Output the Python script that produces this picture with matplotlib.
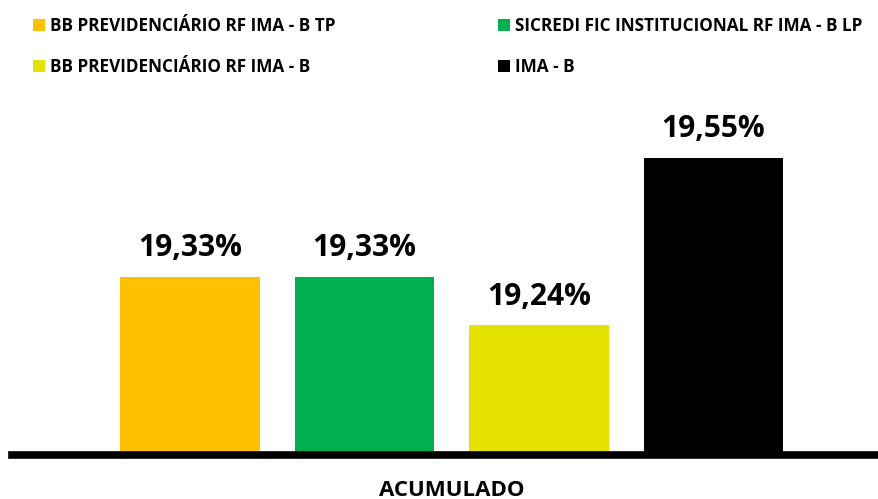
import matplotlib
matplotlib.use('Agg')
import matplotlib.pyplot as plt

fundos = ['BB PREVIDENCIÁRIO RF IMA - B TP',
          'SICREDI FIC INSTITUCIONAL RF IMA - B LP',
          'BB PREVIDENCIÁRIO RF IMA - B',
          'IMA - B']
acumulado = [19.33, 19.33, 19.24, 19.55]
cores = ['#FFC000', '#00B050', '#E6E200', '#000000']
categoria = 'ACUMULADO'

plt.rcParams['font.family'] = ['Open Sans', 'DejaVu Sans']
plt.rcParams['font.weight'] = 'bold'

fig = plt.figure(figsize=(8.79, 4.99), dpi=100)
ax = fig.add_axes([12 / 879, 1 - 455 / 499, 867 / 879, 355 / 499])

pos = list(range(len(fundos)))
bars = ax.bar(pos, acumulado, width=0.802, color=cores, bottom=0)
ax.set_ylim(19.0, 19.0 + 355 / 540)
ax.set_xlim(-1.02, -1.02 + 867 / 174.5)

for b, v in zip(bars, acumulado):
    ax.annotate(f'{v:.2f}%'.replace('.', ','),
                (b.get_x() + b.get_width() / 2, v),
                xytext=(0, 15), textcoords='offset points',
                ha='center', va='baseline', fontsize=21.5, fontweight='bold')

for s in ['top', 'left', 'right']:
    ax.spines[s].set_visible(False)
ax.spines['bottom'].set_linewidth(5.5)
ax.spines['bottom'].set_color('black')
ax.set_yticks([])
ax.set_xticks([])

fig.text(452 / 879, 1 - 490 / 499, categoria, ha='center', va='center',
         fontsize=16, fontweight='bold')

ordem = [0, 2, 1, 3]
leg = fig.legend([bars[i] for i in ordem], [fundos[i] for i in ordem],
                 ncol=2, loc='upper left', bbox_to_anchor=(18 / 879, 1 - 2 / 499),
                 frameon=False, fontsize=12.3, handlelength=0.7, handleheight=0.7,
                 handletextpad=0.29, labelspacing=1.35, columnspacing=9.5)
for t in leg.get_texts():
    t.set_fontweight('bold')

fig.savefig('out.png', dpi=100)
